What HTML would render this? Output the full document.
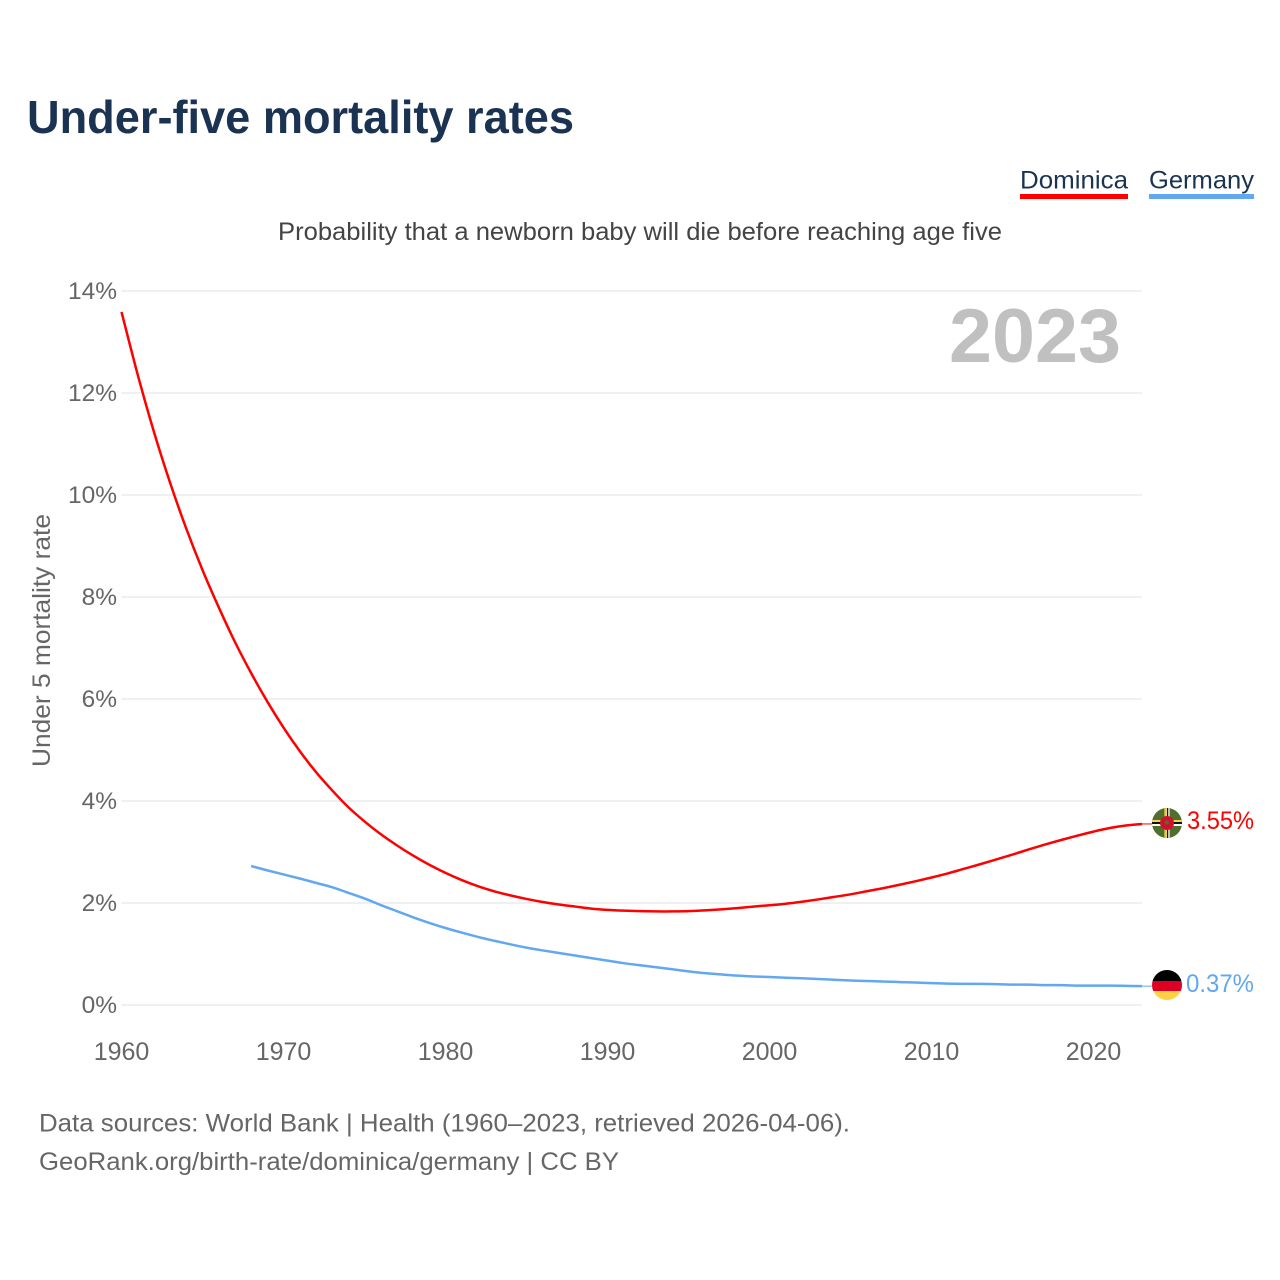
<!DOCTYPE html>
<html lang="en">
<head>
<meta charset="utf-8">
<title>Under-five mortality rates</title>
<style>
html,body{margin:0;padding:0;background:#fff;}
svg{display:block;}
text{font-family:"Liberation Sans",sans-serif;}
</style>
</head>
<body>
<svg id="chart" xmlns="http://www.w3.org/2000/svg" width="1280" height="1280" viewBox="0 0 1280 1280">
  <rect x="0" y="0" width="1280" height="1280" fill="#ffffff"/>
  <text x="27" y="133" font-size="46" font-weight="700" fill="#1a3352" textLength="547" lengthAdjust="spacingAndGlyphs">Under-five mortality rates</text>

  <g>
    <g>
      <text x="1020" y="188.5" font-size="25" fill="#1a3352" textLength="108" lengthAdjust="spacingAndGlyphs">Dominica</text>
      <rect x="1020" y="194" width="108" height="5" fill="#ff0000"/>
    </g>
    <g>
      <text x="1149" y="188.5" font-size="25" fill="#1a3352" textLength="105" lengthAdjust="spacingAndGlyphs">Germany</text>
      <rect x="1149" y="194" width="105" height="5" fill="#62a8f0"/>
    </g>
  </g>

  <text x="278" y="240" font-size="25" fill="#444444" textLength="724" lengthAdjust="spacingAndGlyphs">Probability that a newborn baby will die before reaching age five</text>

  <g id="grid"></g>
  <g id="yticks"></g>
  <g id="xticks"></g>

  <text transform="translate(50,767) rotate(-90)" x="0" y="0" font-size="25" fill="#666666" textLength="253" lengthAdjust="spacingAndGlyphs">Under 5 mortality rate</text>

  <text x="949" y="362" font-size="76" font-weight="700" fill="#c0c0c0" textLength="172" lengthAdjust="spacingAndGlyphs">2023</text>

  <g id="series"></g>

  <defs>
    <clipPath id="clip-dominica"><circle cx="1167" cy="823" r="15"/></clipPath>
    <clipPath id="clip-germany"><circle cx="1167" cy="985" r="15"/></clipPath>
  </defs>

  <g clip-path="url(#clip-dominica)">
    <rect x="1152" y="808" width="30" height="30" fill="#4f6f2e"/>
    <rect x="1164.4" y="808" width="1.3" height="30" fill="#f5d64a"/>
    <rect x="1165.7" y="808" width="1.3" height="30" fill="#f5d64a"/>
    <rect x="1167" y="808" width="1.3" height="30" fill="#111111"/>
    <rect x="1168.3" y="808" width="1.3" height="30" fill="#ffffff"/>
    <rect x="1152" y="820" width="30" height="2" fill="#f5d64a"/>
    <rect x="1152" y="822" width="30" height="2" fill="#111111"/>
    <rect x="1152" y="824" width="30" height="2" fill="#ffffff"/>
    <circle cx="1167" cy="823" r="7" fill="#d0112b"/>
    <circle cx="1167" cy="822.5" r="2.2" fill="#4f6f2e"/>
  </g>
  <g clip-path="url(#clip-germany)">
    <rect x="1152" y="970" width="30" height="11" fill="#000000"/>
    <rect x="1152" y="981" width="30" height="10" fill="#dd0022"/>
    <rect x="1152" y="991" width="30" height="9" fill="#ffd144"/>
  </g>

  <text x="1187" y="829" font-size="25" fill="#ff0000" textLength="67" lengthAdjust="spacingAndGlyphs">3.55%</text>
  <text x="1186" y="992" font-size="25" fill="#62a8f0" textLength="68" lengthAdjust="spacingAndGlyphs">0.37%</text>

  <text x="39" y="1131.5" font-size="25" fill="#666666" textLength="811" lengthAdjust="spacingAndGlyphs">Data sources: World Bank | Health (1960–2023, retrieved 2026-04-06).</text>
  <text x="39" y="1170" font-size="25" fill="#666666" textLength="580" lengthAdjust="spacingAndGlyphs">GeoRank.org/birth-rate/dominica/germany | CC BY</text>
</svg>

<script>
const yearsDominica = [1960,1961,1962,1963,1964,1965,1966,1967,1968,1969,1970,1971,1972,1973,1974,1975,1976,1977,1978,1979,1980,1981,1982,1983,1984,1985,1986,1987,1988,1989,1990,1991,1992,1993,1994,1995,1996,1997,1998,1999,2000,2001,2002,2003,2004,2005,2006,2007,2008,2009,2010,2011,2012,2013,2014,2015,2016,2017,2018,2019,2020,2021,2022,2023];
const dominicaValues = [13.59,12.36,11.24,10.24,9.34,8.53,7.80,7.12,6.51,5.95,5.44,4.98,4.57,4.21,3.88,3.60,3.35,3.13,2.93,2.75,2.59,2.45,2.33,2.23,2.15,2.08,2.02,1.97,1.93,1.89,1.865,1.85,1.84,1.835,1.835,1.84,1.855,1.875,1.90,1.93,1.955,1.985,2.025,2.07,2.12,2.17,2.23,2.29,2.355,2.425,2.50,2.58,2.67,2.76,2.855,2.95,3.05,3.145,3.235,3.32,3.40,3.47,3.52,3.55];
const yearsGermany = [1968,1969,1970,1971,1972,1973,1974,1975,1976,1977,1978,1979,1980,1981,1982,1983,1984,1985,1986,1987,1988,1989,1990,1991,1992,1993,1994,1995,1996,1997,1998,1999,2000,2001,2002,2003,2004,2005,2006,2007,2008,2009,2010,2011,2012,2013,2014,2015,2016,2017,2018,2019,2020,2021,2022,2023];
const germanyValues = [2.725,2.64,2.56,2.48,2.395,2.31,2.20,2.09,1.96,1.84,1.72,1.61,1.51,1.42,1.335,1.26,1.19,1.125,1.07,1.02,0.97,0.92,0.87,0.82,0.78,0.74,0.70,0.66,0.625,0.60,0.575,0.56,0.55,0.535,0.525,0.51,0.495,0.48,0.47,0.46,0.45,0.44,0.43,0.42,0.415,0.415,0.41,0.40,0.40,0.39,0.39,0.38,0.38,0.38,0.375,0.37];
const yTickValues = [0,2,4,6,8,10,12,14];
const yTickLabels = ["0%","2%","4%","6%","8%","10%","12%","14%"];
const xTickValues = [1960,1970,1980,1990,2000,2010,2020];
const xTickLabels = ["1960","1970","1980","1990","2000","2010","2020"];

const NS = 'http://www.w3.org/2000/svg';
const plotLeft = 121.5, pxPerYear = 16.2, plotBaseline = 1005, pxPerPercent = 51;
const plotRight = 1142, labelX = 117, tickBaseline = 1060;

function xScale(year) { return plotLeft + (year - 1960) * pxPerYear; }
function yScale(value) { return plotBaseline - value * pxPerPercent; }

const gridGroup = document.getElementById('grid');
const yGroup = document.getElementById('yticks');
const xGroup = document.getElementById('xticks');
const seriesGroup = document.getElementById('series');

yTickValues.forEach(function (v, i) {
  const line = document.createElementNS(NS, 'line');
  
  
  line.setAttribute('x1', plotLeft);
  line.setAttribute('x2', plotRight);
  line.setAttribute('y1', yScale(v));
  line.setAttribute('y2', yScale(v));
  line.setAttribute('stroke', '#ebebeb');
  line.setAttribute('stroke-width', '1.4');
  gridGroup.appendChild(line);

  const label = document.createElementNS(NS, 'text');
  
  
  label.setAttribute('x', labelX);
  label.setAttribute('y', yScale(v) + 8);
  label.setAttribute('text-anchor', 'end');
  label.setAttribute('font-size', '24.5');
  label.setAttribute('fill', '#666666');
  label.textContent = yTickLabels[i];
  yGroup.appendChild(label);
});

xTickValues.forEach(function (v, i) {
  const label = document.createElementNS(NS, 'text');
  
  
  label.setAttribute('x', xScale(v));
  label.setAttribute('y', tickBaseline);
  label.setAttribute('text-anchor', 'middle');
  label.setAttribute('font-size', '25');
  label.setAttribute('fill', '#666666');
  label.textContent = xTickLabels[i];
  xGroup.appendChild(label);
});

function buildSmoothPath(years, values) {
  const pts = years.map(function (y, i) {
    return [xScale(y), yScale(values[i])];
  });
  let d = 'M' + pts[0][0].toFixed(2) + ' ' + pts[0][1].toFixed(2);
  for (let i = 0; i < pts.length - 1; i++) {
    const p0 = pts[Math.max(i - 1, 0)];
    const p1 = pts[i];
    const p2 = pts[i + 1];
    const p3 = pts[Math.min(i + 2, pts.length - 1)];
    const c1x = p1[0] + (p2[0] - p0[0]) / 6;
    const c1y = p1[1] + (p2[1] - p0[1]) / 6;
    const c2x = p2[0] - (p3[0] - p1[0]) / 6;
    const c2y = p2[1] - (p3[1] - p1[1]) / 6;
    d += 'C' + c1x.toFixed(2) + ' ' + c1y.toFixed(2) + ' ' + c2x.toFixed(2) + ' ' + c2y.toFixed(2) + ' ' + p2[0].toFixed(2) + ' ' + p2[1].toFixed(2);
  }
  return d;
}

const lineDominica = document.createElementNS(NS, 'path');


lineDominica.setAttribute('d', buildSmoothPath(yearsDominica, dominicaValues));
lineDominica.setAttribute('fill', 'none');
lineDominica.setAttribute('stroke', '#ff0000');
lineDominica.setAttribute('stroke-width', '2.5');
seriesGroup.appendChild(lineDominica);

const lineGermany = document.createElementNS(NS, 'path');


lineGermany.setAttribute('d', buildSmoothPath(yearsGermany, germanyValues));
lineGermany.setAttribute('fill', 'none');
lineGermany.setAttribute('stroke', '#62a8f0');
lineGermany.setAttribute('stroke-width', '2.5');
seriesGroup.appendChild(lineGermany);

const leaderDominica = document.createElementNS(NS, 'line');


leaderDominica.setAttribute('x1', plotRight);
leaderDominica.setAttribute('x2', plotRight + 10);
leaderDominica.setAttribute('y1', yScale(dominicaValues[dominicaValues.length - 1]));
leaderDominica.setAttribute('y2', yScale(dominicaValues[dominicaValues.length - 1]));
leaderDominica.setAttribute('stroke', '#ff0000');
leaderDominica.setAttribute('stroke-width', '1');
seriesGroup.appendChild(leaderDominica);

const leaderGermany = document.createElementNS(NS, 'line');


leaderGermany.setAttribute('x1', plotRight);
leaderGermany.setAttribute('x2', plotRight + 10);
leaderGermany.setAttribute('y1', yScale(germanyValues[germanyValues.length - 1]));
leaderGermany.setAttribute('y2', yScale(germanyValues[germanyValues.length - 1]));
leaderGermany.setAttribute('stroke', '#62a8f0');
leaderGermany.setAttribute('stroke-width', '1');
seriesGroup.appendChild(leaderGermany);
</script>
</body>
</html>
